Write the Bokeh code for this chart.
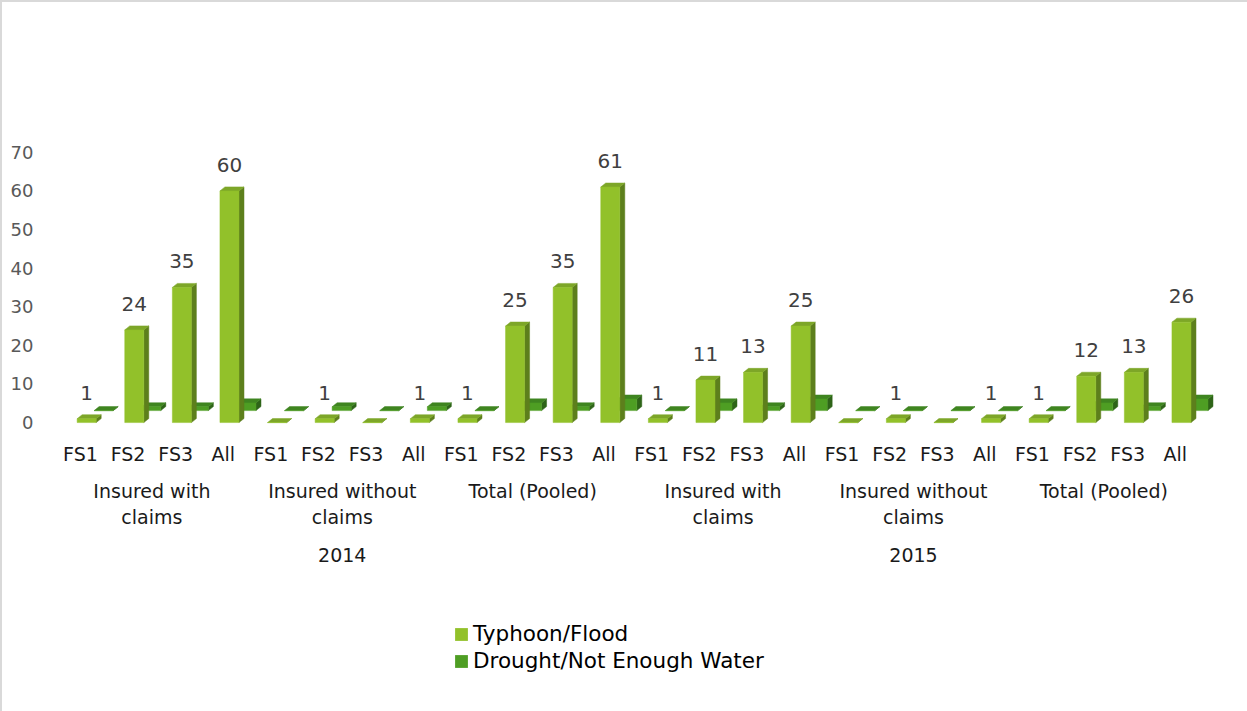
from bokeh.plotting import figure
from bokeh.layouts import column
from bokeh.models import (ColumnDataSource, FixedTicker, LinearAxis, Range1d,
                          LabelSet, Legend, LegendItem)
from bokeh.core.properties import value
from bokeh.embed import file_html
from bokeh.resources import INLINE

# ---------------- data ----------------
years = ["2014", "2015"]
groups = ["Insured with\nclaims", "Insured without\nclaims", "Total (Pooled)"]
fs_labels = ["FS1", "FS2", "FS3", "All"]

typhoon_2014_with = [1, 24, 35, 60]
typhoon_2014_without = [0, 1, 0, 1]
typhoon_2014_total = [1, 25, 35, 61]
typhoon_2015_with = [1, 11, 13, 25]
typhoon_2015_without = [0, 1, 0, 1]
typhoon_2015_total = [1, 12, 13, 26]

drought_2014_with = [0, 1, 1, 2]
drought_2014_without = [0, 1, 0, 1]
drought_2014_total = [0, 2, 1, 3]
drought_2015_with = [0, 2, 1, 3]
drought_2015_without = [0, 0, 0, 0]
drought_2015_total = [0, 2, 1, 3]

series_names = ["Typhoon/Flood", "Drought/Not Enough Water"]
y_ticks = [0, 10, 20, 30, 40, 50, 60, 70]

typhoon = (typhoon_2014_with + typhoon_2014_without + typhoon_2014_total +
           typhoon_2015_with + typhoon_2015_without + typhoon_2015_total)
drought = (drought_2014_with + drought_2014_without + drought_2014_total +
           drought_2015_with + drought_2015_without + drought_2015_total)

n = len(typhoon)
xs_cat = list(range(n))
fs_all = fs_labels * (len(years) * len(groups))

# ---------------- geometry (styling) ----------------
BAR_W = 0.40          # front face width (category units)
FRONT_SHIFT = 0.13    # front face centre offset from category centre
DX = 0.105            # 3D depth in x (category units)
DY = 1.04             # 3D depth in y (value units)
BACK_DX = 0.357       # offset of back series in x
BACK_DY = 3.1         # offset of back series in y

colors = {
    "typhoon": ("#92C12A", "#7DA628", "#5D7F1C"),
    "drought": ("#4E9E23", "#3F8520", "#2E6418"),
}
FONT = "DejaVu Sans"

W = 1245
H_MAIN, H_LEG = 600, 109
p = figure(width=W, height=H_MAIN, output_backend="svg", toolbar_location=None,
           x_range=Range1d(-0.798, 24.097), y_range=Range1d(-0.5, 106.2),
           min_border_left=40, min_border_right=20, min_border_top=10,
           min_border_bottom=178, x_axis_type=None)
p.grid.visible = False
p.outline_line_color = None
p.background_fill_color = "white"
p.border_fill_color = "white"

# y axis
p.yaxis.ticker = FixedTicker(ticks=y_ticks)
p.yaxis.axis_line_color = None
p.yaxis.major_tick_line_color = None
p.yaxis.minor_tick_line_color = None
p.yaxis.major_label_standoff = 3
p.yaxis.major_label_text_font = FONT
p.yaxis.major_label_text_font_size = "18px"
p.yaxis.major_label_text_color = "#595959"


def draw_series(values, key, base_dx, base_dy):
    front_c, top_c, side_c = colors[key]
    x0 = [i + FRONT_SHIFT - BAR_W / 2 + base_dx for i in xs_cat]
    x1 = [a + BAR_W for a in x0]
    side_xs, side_ys, top_xs, top_ys = [], [], [], []
    for a, b, v in zip(x0, x1, values):
        side_xs.append([b, b + DX, b + DX, b])
        side_ys.append([base_dy, base_dy + DY, base_dy + v + DY, base_dy + v])
        top_xs.append([a, b, b + DX, a + DX])
        top_ys.append([base_dy + v, base_dy + v, base_dy + v + DY, base_dy + v + DY])
    p.patches(side_xs, side_ys, fill_color=side_c, line_color=side_c, line_width=0.5)
    p.patches(top_xs, top_ys, fill_color=top_c, line_color=top_c, line_width=0.5)
    src = ColumnDataSource(dict(x=[(a + b) / 2 for a, b in zip(x0, x1)],
                                top=[base_dy + v for v in values],
                                bottom=[base_dy] * len(values)))
    p.vbar(x="x", top="top", bottom="bottom", width=BAR_W, source=src,
           fill_color=front_c, line_color=front_c, line_width=0.5)


draw_series(drought, "drought", BACK_DX, BACK_DY)
draw_series(typhoon, "typhoon", 0.0, 0.0)

# data labels (non-zero typhoon values)
lab_x = [i + FRONT_SHIFT for i, v in zip(xs_cat, typhoon) if v != 0]
lab_y = [v for v in typhoon if v != 0]
lab_t = [str(v) for v in typhoon if v != 0]
lab_src = ColumnDataSource(dict(x=lab_x, y=lab_y, t=lab_t))
p.add_layout(LabelSet(x="x", y="y", text="t", source=lab_src, y_offset=26,
                      text_align="center", text_baseline="middle",
                      text_font=value(FONT), text_font_size=value("20px"),
                      text_color="#404040"))

# x axes: FS labels, group labels, year labels
ax1 = LinearAxis(ticker=FixedTicker(ticks=xs_cat),
                 major_label_overrides={i: fs_all[i] for i in xs_cat})
group_pos = [i * 4 + 1.5 for i in range(len(years) * len(groups))]
group_all = groups * len(years)
ax2 = LinearAxis(ticker=FixedTicker(ticks=group_pos),
                 major_label_overrides={g: t for g, t in zip(group_pos, group_all)})
year_pos = [5.5, 17.5]
ax3 = LinearAxis(ticker=FixedTicker(ticks=year_pos),
                 major_label_overrides={y: t for y, t in zip(year_pos, years)})
for ax, standoff in ((ax1, 12), (ax2, 6), (ax3, 11)):
    ax.axis_line_color = None
    ax.major_tick_line_color = None
    ax.minor_tick_line_color = None
    ax.major_label_standoff = standoff
    ax.major_label_text_font = FONT
    ax.major_label_text_font_size = "19px"
    ax.major_label_text_color = "#1a1a1a"
    p.add_layout(ax, "below")

# legend strip below the chart (swatch renderers sit outside the visible range)
p2 = figure(width=W, height=H_LEG, output_backend="svg", toolbar_location=None,
            x_range=Range1d(0, 1), y_range=Range1d(0, 1),
            x_axis_type=None, y_axis_type=None,
            min_border_left=0, min_border_right=0, min_border_top=0,
            min_border_bottom=0)
p2.grid.visible = False
p2.outline_line_color = None
p2.border_fill_color = "white"
swatch_src = ColumnDataSource(dict(x=[-5], top=[-5]))
rl_ty = p2.vbar(x="x", top="top", width=0.1, source=swatch_src,
                fill_color=colors["typhoon"][0], line_color=None)
rl_dr = p2.vbar(x="x", top="top", width=0.1, source=swatch_src,
                fill_color=colors["drought"][0], line_color=None)
legend = Legend(items=[LegendItem(label=series_names[0], renderers=[rl_ty]),
                       LegendItem(label=series_names[1], renderers=[rl_dr])],
                location=(411, 38), orientation="vertical",
                label_text_font=FONT,
                label_text_font_size="21.5px", label_text_color="#000000",
                glyph_width=16, glyph_height=16, spacing=2, padding=0,
                margin=0, label_standoff=4,
                border_line_alpha=0, background_fill_alpha=0)
p2.add_layout(legend, "center")

layout = column(p, p2, spacing=0)
layout.styles = {"border-left": "2px solid #d9d9d9", "border-top": "2px solid #d9d9d9"}

open("out.html", "w").write(file_html(layout, INLINE))
